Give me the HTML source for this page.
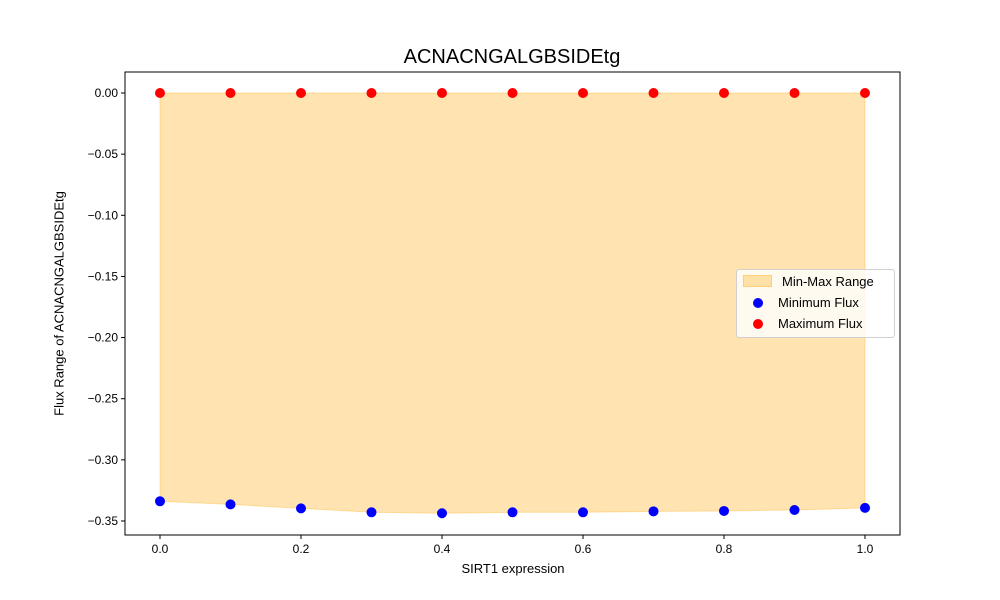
<!DOCTYPE html>
<html><head><meta charset="utf-8"><style>
body{margin:0;background:#fff;}
svg{display:block;font-family:"Liberation Sans","DejaVu Sans",sans-serif;}
</style></head><body>
<svg id="chart" width="1000" height="600"></svg>
<script>
const xValues=[0,0.1,0.2,0.3,0.4,0.5,0.6,0.7,0.8,0.9,1.0];
const minFlux=[-0.3339,-0.3364,-0.3397,-0.3429,-0.3437,-0.3429,-0.3429,-0.3421,-0.3418,-0.3410,-0.3393];
const maxFlux=[0,0,0,0,0,0,0,0,0,0,0];
const xTicks=[0,0.2,0.4,0.6,0.8,1.0];
const yTicks=[0,-0.05,-0.10,-0.15,-0.20,-0.25,-0.30,-0.35];
const NS="http://www.w3.org/2000/svg";
const svg=document.getElementById('chart');
const L=125,R=900,T=72,B=535;
function sx(v){return 160+v*705;}
function sy(v){return 93-v/0.05*61.14;}
function mk(tag,attrs,parent){const e=document.createElementNS(NS,tag);for(const k in attrs)e.setAttribute(k,attrs[k]);(parent||svg).appendChild(e);return e;}
let pts=xValues.map((x,i)=>sx(x)+','+sy(maxFlux[i]));
for(let i=xValues.length-1;i>=0;i--)pts.push(sx(xValues[i])+','+sy(minFlux[i]));
const area=mk('polygon',{points:pts.join(' '),fill:'#ffa500','fill-opacity':0.3,stroke:'#ffa500','stroke-opacity':0.3});


const frame=mk('rect',{x:L,y:T,width:R-L,height:B-T,fill:'none',stroke:'#000','stroke-width':1});


xTicks.forEach(v=>{
 const x=sx(v);
 mk('line',{x1:x,y1:B,x2:x,y2:B+4,stroke:'#000'});
 const t=mk('text',{x:x,y:B+18,'text-anchor':'middle','font-size':12});
 t.textContent=v.toFixed(1);
 
 
});
yTicks.forEach(v=>{
 const y=sy(v);
 mk('line',{x1:L-4,y1:y,x2:L,y2:y,stroke:'#000'});
 const t=mk('text',{x:L-7,y:y+4,'text-anchor':'end','font-size':12});
 t.textContent=(v===0?'0.00':v.toFixed(2).replace('-','\u2212'));
 
 
});
xValues.forEach((x,i)=>{
 const c=mk('ellipse',{cx:sx(x),cy:sy(minFlux[i]),rx:5,ry:5,fill:'#0000ff'});
 
 
 const d=mk('ellipse',{cx:sx(x),cy:sy(maxFlux[i]),rx:5,ry:5,fill:'#ff0000'});
 
 
});
</script>
<div style="position:absolute;left:0;top:0;width:1000px;height:600px;pointer-events:none;font-family:'Liberation Sans','DejaVu Sans',sans-serif;">
 <div style="position:absolute;left:0;width:1024px;top:46px;text-align:center;font-size:20px;">ACNACNGALGBSIDEtg</div>
 <div style="position:absolute;left:413px;width:200px;top:561px;text-align:center;font-size:13px;">SIRT1 expression</div>
 <div style="position:absolute;left:-91px;top:296px;width:300px;text-align:center;font-size:13px;white-space:nowrap;transform:rotate(-90deg);">Flux Range of ACNACNGALGBSIDEtg</div>
 <div style="position:absolute;left:736px;top:269px;width:157px;height:67px;border:1px solid #d0d0d0;border-radius:3px;background:rgba(255,255,255,0.8);font-size:13px;">
  <div style="position:absolute;left:6px;top:4px;white-space:nowrap;"><span style="display:inline-block;width:27px;height:10px;background:rgba(255,165,0,0.3);border:1px solid rgba(255,165,0,0.3);vertical-align:-1px;margin-right:10px;"></span>Min-Max Range</div>
  <div style="position:absolute;left:6px;top:25px;white-space:nowrap;"><span style="display:inline-block;width:10px;height:10px;border-radius:50%;background:#00f;margin:0 15px 0 10px;vertical-align:-1px;"></span>Minimum Flux</div>
  <div style="position:absolute;left:6px;top:46px;white-space:nowrap;"><span style="display:inline-block;width:10px;height:10px;border-radius:50%;background:#f00;margin:0 15px 0 10px;vertical-align:-1px;"></span>Maximum Flux</div>
 </div>
</div>
</body></html>
